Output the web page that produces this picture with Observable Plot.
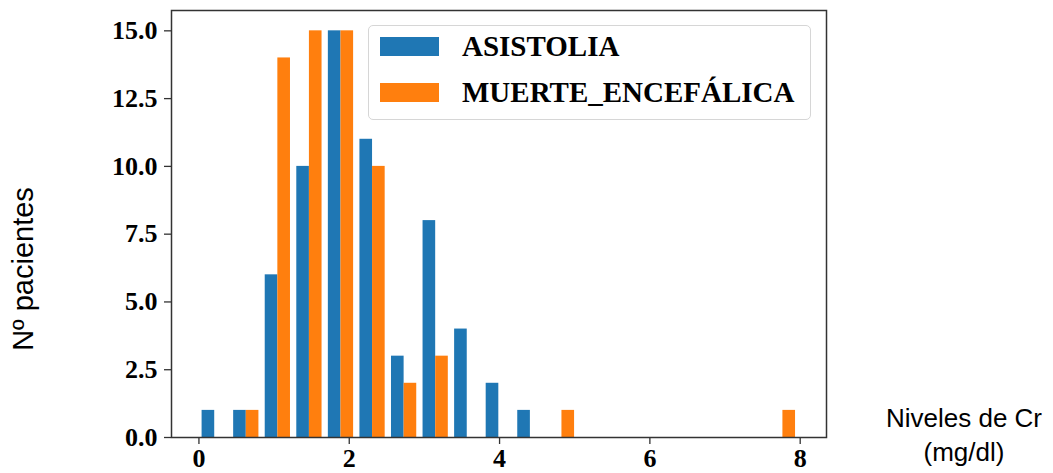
<!DOCTYPE html>
<html>
<head>
<meta charset="utf-8">
<script src="https://cdn.jsdelivr.net/npm/d3@7"></script>
<script src="https://cdn.jsdelivr.net/npm/@observablehq/plot@0.6"></script>
<style>
  body { margin: 0; background: #fff; }
  #wrap { position: relative; width: 1053px; height: 473px; overflow: hidden; }
  .lab { position: absolute; font-family: "Liberation Sans", Arial, sans-serif; color: #000; white-space: nowrap; }
  #legend { position: absolute; left: 368px; top: 25px; width: 443px; height: 95px; box-sizing: border-box;
            border: 1px solid #d6d6d6; border-radius: 5px; background: rgba(255,255,255,0.8); }
  .lg-sw { position: absolute; left: 11px; width: 59px; height: 19px; }
  .lg-tx { position: absolute; left: 93px; font-family: "Liberation Serif", "Times New Roman", serif; font-weight: bold; font-size: 29px; line-height: 29px; white-space: nowrap; }
</style>
</head>
<body>
<div id="wrap"></div>
<script>
// Series names and colours
const seriesNames = ["ASISTOLIA", "MUERTE_ENCEFÁLICA"];
const seriesColors = ["#1f77b4", "#ff7f0e"];

// Histogram bin starts (mg/dl) and bin width
const binStarts = [0.00, 0.42, 0.84, 1.26, 1.68, 2.10, 2.52, 2.94, 3.36, 3.78,
                   4.20, 4.62, 5.04, 5.46, 5.88, 6.30, 6.72, 7.14, 7.56];
const binWidth = 0.42;

// Counts per bin
const asistolia = [1, 1, 6, 10, 15, 11, 3, 8, 4, 2, 1, 0, 0, 0, 0, 0, 0, 0, 0];
const muerte    = [0, 1, 14, 15, 15, 10, 2, 3, 0, 0, 0, 1, 0, 0, 0, 0, 0, 0, 1];

// Axis ticks
const xTicks = [0, 2, 4, 6, 8];
const yTicks = [0, 2.5, 5, 7.5, 10, 12.5, 15];

// Build grouped histogram table (matplotlib style: rwidth 0.8 split between series)
const seriesCounts = [asistolia, muerte];
const rows = [];
seriesCounts.forEach((counts, s) => {
  counts.forEach((c, i) => {
    if (c > 0) {
      const x1 = binStarts[i] + binWidth * (0.1 + 0.4 * s);
      rows.push({series: seriesNames[s], x1, x2: x1 + binWidth * 0.4, count: c});
    }
  });
});

const chart = Plot.plot({
  width: 1053,
  height: 473,
  marginLeft: 171,
  marginRight: 227,
  marginTop: 10,
  marginBottom: 36,
  style: {fontFamily: "'Liberation Serif', 'Times New Roman', serif", fontWeight: "bold", fontSize: "26px", color: "#000", background: "#fff"},
  x: {domain: [-0.365, 8.35]},
  y: {domain: [0, 15.75]},
  color: {domain: seriesNames, range: seriesColors},
  marks: [
    Plot.rectY(rows, {x1: "x1", x2: "x2", y: "count", fill: "series"}),
    Plot.axisX(xTicks, {tickSize: 7, tickPadding: 4, tickFormat: d3.format("d"), label: null, stroke: "#333", strokeWidth: 1.3}),
    Plot.axisY(yTicks, {tickSize: 7, tickPadding: 7, tickFormat: d3.format(".1f"), label: null, stroke: "#333", strokeWidth: 1.3}),
    Plot.frame({stroke: "#333", strokeWidth: 1.5})
  ]
});

const wrap = document.getElementById("wrap");
wrap.appendChild(chart);

// Legend
const legend = document.createElement("div");
legend.id = "legend";
seriesNames.forEach((name, i) => {
  const sw = document.createElement("div");
  sw.className = "lg-sw";
  sw.style.background = seriesColors[i];
  sw.style.top = (11 + i * 45.5) + "px";
  const tx = document.createElement("div");
  tx.className = "lg-tx";
  tx.textContent = name;
  tx.style.top = (6 + i * 45.5) + "px";
  legend.appendChild(sw);
  legend.appendChild(tx);
});
wrap.appendChild(legend);

// Axis titles
const yl = document.createElement("div");
yl.className = "lab";
yl.textContent = "Nº pacientes";
yl.style.fontSize = "29px";
yl.style.left = "23px";
yl.style.top = "269px";
yl.style.transform = "translate(-50%, -50%) rotate(-90deg)";
wrap.appendChild(yl);

const xl = document.createElement("div");
xl.className = "lab";
xl.style.fontSize = "26px";
xl.style.left = "964px";
xl.style.top = "401px";
xl.style.transform = "translateX(-50%)";
xl.style.textAlign = "center";
xl.style.lineHeight = "34px";
xl.innerHTML = "Niveles de Cr<br>(mg/dl)";
wrap.appendChild(xl);
</script>
</body>
</html>
